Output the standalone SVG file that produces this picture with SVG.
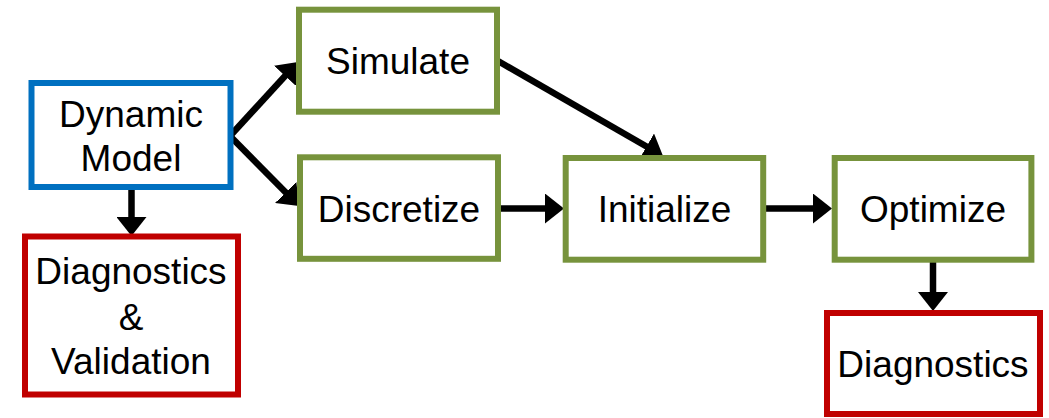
<svg xmlns="http://www.w3.org/2000/svg" width="1049" height="418" viewBox="0 0 1049 418">
<style>
.box{fill:#fff;stroke-width:6}
.blue{stroke:#0070C0}
.green{stroke:#77933C}
.red{stroke:#C00000}
text{font-family:"Liberation Sans",Arial,sans-serif;font-size:37px;fill:#000;text-anchor:middle}
.conn line{stroke:#000;stroke-width:6.5;marker-end:url(#ah)}
</style>
<defs>
<marker id="ah" viewBox="0 0 19 30" refX="4" refY="15" markerWidth="19" markerHeight="30" markerUnits="userSpaceOnUse" orient="auto">
<path d="M0,0 L19,15 L0,30 z" fill="#000"/>
</marker>
</defs>
<rect width="1049" height="418" fill="#fff"/>
<g class="conn">
<line x1="230" y1="136" x2="287.8" y2="73"/>
<line x1="230" y1="136" x2="288.5" y2="195.3"/>
<line x1="131.5" y1="188" x2="131.5" y2="221"/>
<line x1="498" y1="61" x2="650" y2="148.5"/>
<line x1="500" y1="208.5" x2="549" y2="208.5"/>
<line x1="766" y1="208.5" x2="817" y2="208.5"/>
<line x1="933" y1="262" x2="933" y2="296"/>
</g>
<g id="dynamic-model">
<rect class="box blue" x="31.5" y="83" width="199" height="104"/>
<text x="131" y="127">Dynamic</text>
<text x="131" y="171">Model</text>
</g>
<g id="diag-validation">
<rect class="box red" x="25" y="236.5" width="213" height="158"/>
<text x="131" y="284">Diagnostics</text>
<text x="131" y="330">&amp;</text>
<text x="131" y="374">Validation</text>
</g>
<g id="simulate">
<rect class="box green" x="299" y="9.7" width="198" height="102"/>
<text x="398" y="74">Simulate</text>
</g>
<g id="discretize">
<rect class="box green" x="300" y="157.3" width="198" height="101.5"/>
<text x="399" y="222">Discretize</text>
</g>
<g id="initialize">
<rect class="box green" x="565.7" y="158" width="197.5" height="101.7"/>
<text x="664.5" y="222">Initialize</text>
</g>
<g id="optimize">
<rect class="box green" x="834.7" y="158" width="196.7" height="101.7"/>
<text x="933" y="222">Optimize</text>
</g>
<g id="diagnostics">
<rect class="box red" x="827" y="313" width="213" height="101"/>
<text x="933" y="377">Diagnostics</text>
</g>
</svg>
